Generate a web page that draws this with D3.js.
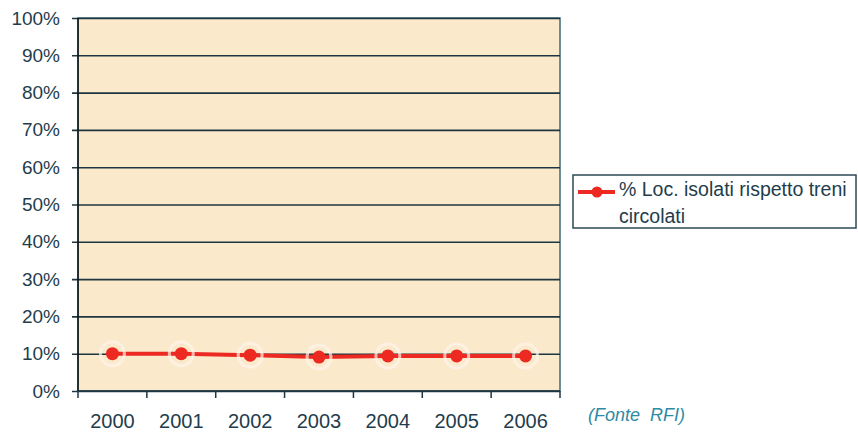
<!DOCTYPE html>
<html>
<head>
<meta charset="utf-8">
<script src="https://cdn.jsdelivr.net/npm/d3@7"></script>
<style>
  body { margin: 0; background: #fff; }
  text { font-family: "Liberation Sans", Arial, sans-serif; }
</style>
</head>
<body>
<div id="chart"></div>
<script>
// data
var years = ["2000", "2001", "2002", "2003", "2004", "2005", "2006"];
var pctIsolati = [0.100, 0.100, 0.096, 0.091, 0.094, 0.094, 0.094];
var yTicks = [0, 0.1, 0.2, 0.3, 0.4, 0.5, 0.6, 0.7, 0.8, 0.9, 1.0];
var legendLines = ["% Loc. isolati rispetto treni", "circolati"];
var sourceNote = "(Fonte  RFI)";

var width = 858, height = 433;
var margin = { left: 78, right: 298, top: 18, bottom: 42 };
var plotW = width - margin.left - margin.right;
var plotH = height - margin.top - margin.bottom;

var svg = d3.select("#chart").append("svg")
  .attr("width", width)
  .attr("height", height);

var g = svg.append("g")
  .attr("transform", "translate(" + margin.left + "," + margin.top + ")");

var x = d3.scaleBand().domain(years).range([0, plotW]).padding(0);
var y = d3.scaleLinear().domain([0, 1]).range([plotH, 0]);

// plot background
g.append("rect")
  .attr("width", plotW)
  .attr("height", plotH)
  .attr("fill", "#fbe9cc")
  .attr("stroke", "#3b6b78")
  .attr("stroke-width", 1.5);

// gridlines + y axis
var yAxis = d3.axisLeft(y)
  .tickValues(yTicks)
  .tickFormat(d3.format(".0%"))
  .tickSize(-plotW)
  .tickPadding(18);

var yg = g.append("g").call(yAxis);
yg.select(".domain").remove();
yg.selectAll(".tick line")
  .attr("x1", -6)
  .attr("stroke", "#1e3640")
  .attr("stroke-width", 1.6);
yg.selectAll(".tick text")
  .attr("fill", "#1f3d4c")
  .style("font-size", "19px");

// left axis line
g.append("line")
  .attr("x1", 0).attr("x2", 0)
  .attr("y1", 0).attr("y2", plotH)
  .attr("stroke", "#111")
  .attr("stroke-width", 1.5);

// x axis with ticks on band edges
var xg = g.append("g")
  .attr("transform", "translate(0," + plotH + ")");
xg.append("line")
  .attr("x1", 0).attr("x2", plotW)
  .attr("stroke", "#1e3640")
  .attr("stroke-width", 1.6);
var edges = years.map(function(d) { return x(d); }).concat([plotW]);
xg.selectAll(".xtick")
  .data(edges)
  .enter().append("line")
  .attr("class", "xtick")
  .attr("x1", function(d) { return d; })
  .attr("x2", function(d) { return d; })
  .attr("y1", 0).attr("y2", 7)
  .attr("stroke", "#1e3640")
  .attr("stroke-width", 1.5);
xg.selectAll(".xlabel")
  .data(years)
  .enter().append("text")
  .attr("class", "xlabel")
  .attr("x", function(d) { return x(d) + x.bandwidth() / 2; })
  .attr("y", 37)
  .attr("text-anchor", "middle")
  .attr("fill", "#1f3d4c")
  .style("font-size", "20px")
  .text(function(d) { return d; });

// the series line
var line = d3.line()
  .x(function(d, i) { return x(years[i]) + x.bandwidth() / 2; })
  .y(function(d) { return y(d); });

g.append("path")
  .datum(pctIsolati)
  .attr("d", line)
  .attr("fill", "none")
  .attr("stroke", "#ec2a22")
  .attr("stroke-width", 4);

// markers with a soft halo
var diamond = d3.symbol().type(d3.symbolDiamond);
g.selectAll(".halo")
  .data(pctIsolati)
  .enter().append("circle")
  .attr("class", "halo")
  .attr("cx", function(d, i) { return x(years[i]) + x.bandwidth() / 2; })
  .attr("cy", function(d) { return y(d); })
  .attr("r", 12)
  .attr("fill", "none")
  .attr("stroke", "#fff3ea")
  .attr("stroke-width", 3)
  .attr("opacity", 0.7);
g.selectAll(".pt")
  .data(pctIsolati)
  .enter().append("circle")
  .attr("class", "pt")
  .attr("cx", function(d, i) { return x(years[i]) + x.bandwidth() / 2; })
  .attr("cy", function(d) { return y(d); })
  .attr("r", 6.5)
  .attr("fill", "#ec2a22");

// legend
var lg = svg.append("g").attr("transform", "translate(573,175)");
lg.append("rect")
  .attr("width", 283)
  .attr("height", 53)
  .attr("fill", "#fff")
  .attr("stroke", "#2b4a55")
  .attr("stroke-width", 1.5);
lg.append("line")
  .attr("x1", 5).attr("x2", 42)
  .attr("y1", 17).attr("y2", 17)
  .attr("stroke", "#ec2a22")
  .attr("stroke-width", 4);
lg.append("circle")
  .attr("cx", 24).attr("cy", 17)
  .attr("r", 5.5)
  .attr("fill", "#ec2a22");
lg.selectAll(".ltxt")
  .data(legendLines)
  .enter().append("text")
  .attr("class", "ltxt")
  .attr("x", 46)
  .attr("y", function(d, i) { return 21 + i * 27; })
  .attr("fill", "#1f3d4c")
  .style("font-size", "19.5px")
  .text(function(d) { return d; });

// source note
svg.append("text")
  .attr("x", 588)
  .attr("y", 421)
  .attr("fill", "#2f8aa3")
  .style("font-size", "18px")
  .style("font-style", "italic")
  .attr("xml:space", "preserve")
  .text(sourceNote);
</script>
</body>
</html>
